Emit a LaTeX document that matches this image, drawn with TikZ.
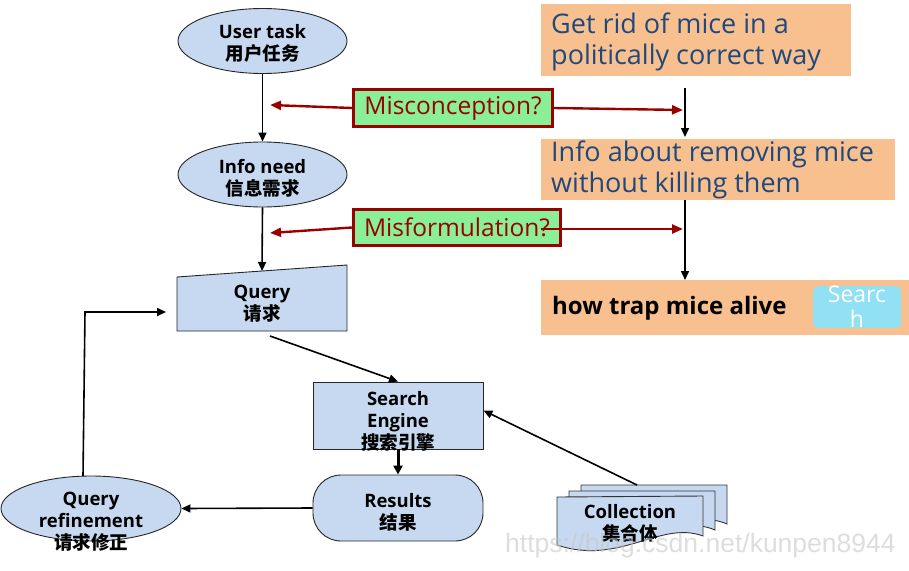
\documentclass[tikz,border=0pt]{standalone}
\usepackage{fontspec}
\setmainfont{Open Sans}
\newfontfamily\cjk{Noto Sans CJK SC}
\newfontfamily\wmfont{Liberation Sans}
\usetikzlibrary{arrows.meta,shapes.geometric}
\definecolor{bluefill}{RGB}{198,217,240}
\definecolor{orangec}{RGB}{248,192,143}
\definecolor{greenc}{RGB}{138,240,152}
\definecolor{redc}{RGB}{153,0,0}
\definecolor{textblue}{RGB}{31,73,125}
\definecolor{cyanbtn}{RGB}{146,224,244}
\tikzset{
  bluebox/.style={draw=black!85, fill=bluefill, line width=0.9pt},
  lbl/.style={font=\fontsize{18.5}{22}\selectfont\bfseries, align=center, text=black, inner sep=0},
  arr/.style={line width=1.6pt, -{Triangle[length=9pt,width=8pt]}},
  rarr/.style={draw=redc, line width=2.4pt, -{Triangle[length=11pt,width=9pt]}},
  misbox/.style={draw=redc, fill=greenc, line width=3pt, text=redc, inner sep=0,
    font=\fontsize{24.5}{28}\selectfont},
  orbox/.style={fill=orangec, anchor=north west, inner sep=0pt},
  ortext/.style={anchor=west, inner sep=0pt, align=left, text=textblue, font=\fontsize{27}{31.5}\selectfont},
  page/.style={draw=black!80, fill=bluefill, line width=0.9pt}
}
\begin{document}
\begin{tikzpicture}[x=1pt,y=-1pt]
\path[use as bounding box] (0,0) rectangle (909,570);

% left flow
\node[ellipse, bluebox, minimum width=169, minimum height=65, inner sep=0] (task) at (262.5,41) {};
\node[lbl] (taskT) at (262.5,43.5) {User task\\{\cjk\bfseries 用户任务}};
\node[ellipse, bluebox, minimum width=169, minimum height=65, inner sep=0] (info) at (262.5,174.5) {};
\node[lbl] (infoT) at (262.5,178) {Info need\\{\cjk\bfseries 信息需求}};
\draw[bluebox] (177,277) -- (347,265) -- (347,331) -- (177,331) -- cycle;
\node[lbl] (query) at (262,304) {Query\\{\cjk\bfseries 请求}};
\node[rectangle, bluebox, minimum width=170, minimum height=67, inner sep=0] (se) at (398,415.5) {};
\node[lbl] (seT) at (398,421) {Search\\Engine\\{\cjk\bfseries 搜索引擎}};
\node[rectangle, rounded corners=28pt, bluebox, minimum width=170, minimum height=66, inner sep=0] (res) at (398,508) {};
\node[lbl] (resT) at (398,512) {Results\\{\cjk\bfseries 结果}};
\node[ellipse, bluebox, minimum width=180, minimum height=65, inner sep=0] (ref) at (91,508.5) {};
\node[lbl] (refT) at (91,522) {Query\\refinement\\{\cjk\bfseries 请求修正}};

% collection pages
\draw[page] (581,485) -- (727,485) -- (727,524) .. controls (691,508) and (651,542) .. (581,533) -- cycle;
\draw[page] (569,491) -- (715,491) -- (715,530) .. controls (679,514) and (639,548) .. (569,539) -- cycle;
\draw[page] (557,497) -- (703,496) -- (703,536) .. controls (660,520) and (620,566) .. (557,545) -- cycle;
\node[lbl] (coll) at (630,523) {Collection\\{\cjk\bfseries 集合体}};
\coordinate (collTop) at (637,485);

% connectors left
\coordinate (qtop) at (262,271);
\coordinate (qout) at (270,336);
\coordinate (refUp) at (83,476);
\coordinate (refCorner) at (85,312);
\coordinate (qin) at (166,312);
\draw[arr] (task.south) -- (info.north);
\draw[arr] (info.south) -- (qtop);
\draw[arr] (qout) -- (se.north);
\draw[line width=3pt, -{Triangle[length=9pt,width=9pt]}] (se.south) -- (res.north);
\draw[arr] (res.west) -- (ref.east);
\draw[arr] (refUp) -- (refCorner) -- (qin);
\draw[arr] (collTop) -- ([yshift=5pt]se.east);

% orange boxes
\node[orbox, minimum width=310, minimum height=72] (goal) at (541,4) {};
\node[ortext] (goalT) at (551,42) {Get rid of mice in a\\politically correct way};
\node[orbox, minimum width=354, minimum height=61] (infoabout) at (541,139) {};
\node[ortext] (infoT2) at (551,170) {Info about removing mice\\without killing them};
\node[orbox, minimum width=368, minimum height=55] (qbox) at (541,280) {};
\node[anchor=west, inner sep=0, font=\fontsize{24}{24}\selectfont\bfseries] (qtext) at (552,308) {how trap mice alive};
\node[fill=cyanbtn, rounded corners=5pt, minimum width=88, minimum height=40, inner sep=0, align=center,
  text=white, font=\fontsize{23}{25}\selectfont] (btn) at (857,307) {Searc\\h};

% right black arrows
\coordinate (r1) at (685,88);
\coordinate (r2) at (685,200);
\draw[arr] (r1) -- (685,137);
\draw[arr] (r2) -- (qbox.north -| r2);

% misconception boxes
\node[misbox, minimum width=199, minimum height=37] (mc) at (453,108) {Misconception?};
\node[misbox, minimum width=207, minimum height=36] (mf) at (457,227.5) {Misformulation?};
\coordinate (mcL) at (270,105);
\coordinate (mcR) at (683,110);
\coordinate (mfL) at (270,233);
\coordinate (mfS) at (541,229);
\coordinate (mfR) at (683,229);
\draw[rarr] (mc.west) -- (mcL);
\draw[rarr] (mc.east) -- (mcR);
\draw[rarr] (mf.west) -- (mfL);
\draw[rarr] (mfS) -- (mfR);

% watermark
\node[anchor=west, inner sep=0, text=black!22, opacity=0.6, font=\wmfont\fontsize{26.5}{26}\selectfont] (wm) at (505,546) {https://blog.csdn.net/kunpen8944};
\end{tikzpicture}
\end{document}
